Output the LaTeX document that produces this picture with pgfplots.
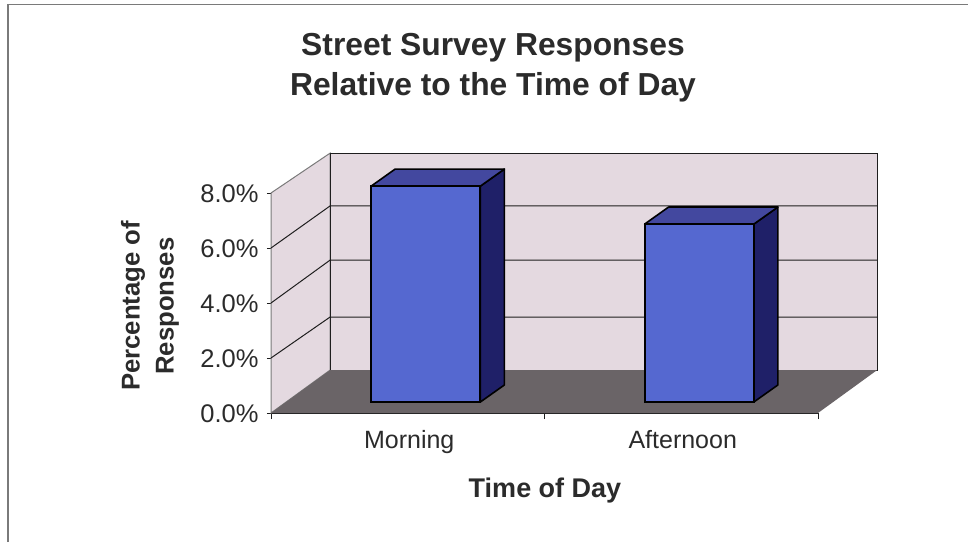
\documentclass[border=0pt]{standalone}
\usepackage{fontspec}
\setmainfont{Liberation Sans}
\usepackage{pgfplots}
\pgfplotsset{compat=1.18}
\definecolor{wallc}{HTML}{E4D9E0}
\definecolor{floorc}{HTML}{6A6467}
\definecolor{barfront}{HTML}{5568D0}
\definecolor{bartop}{HTML}{43489F}
\definecolor{barside}{HTML}{1F2068}
\definecolor{gridc}{HTML}{1E1E1E}
\definecolor{framec}{HTML}{7A7A7A}
\definecolor{textc}{HTML}{2B2B2B}
\begin{document}
\begin{tikzpicture}[x=1pt,y=1pt]
\path[use as bounding box,fill=white] (-271,-129) rectangle (697,413);
% page frame
\draw[framec,line width=1.2pt] (-263,-129) -- (-263,408.5) -- (697,408.5);
\begin{axis}[
  at={(0,0)},anchor=south west,
  width=547pt,height=220pt,scale only axis,
  xmin=0,xmax=2,ymin=0,ymax=8,
  clip=false,
  axis x line*=bottom,axis y line*=left,
  axis line style={gridc,line width=1pt,-},
  xtick={0.5,1.5},xticklabels={Morning,Afternoon},
  minor xtick={0,1,2},
  ytick={0,2,4,6,8},
  major x tick style={draw=none},
  tick align=outside,
  tick style={gridc,line width=0.9pt},
  major tick length=4pt,minor tick length=6pt,
  y tick label style={font=\fontsize{25.5}{28}\selectfont,text=textc,xshift=-5pt,yshift=-1pt},
  x tick label style={font=\fontsize{25}{28}\selectfont,text=textc,xshift=1.5pt,yshift=-10pt},
  /pgf/number format/assume math mode=true,
  yticklabel={\pgfmathprintnumber[fixed,fixed zerofill,precision=1]{\tick}\%},
]
% left wall, back wall, floor
\addplot[fill=wallc,draw=framec,line width=1pt] coordinates {(0,0)(0.216,1.56)(0.216,9.45)(0,8)} -- cycle;
\addplot[fill=wallc,draw=gridc,line width=1pt] coordinates {(0.216,1.56)(2.216,1.56)(2.216,9.45)(0.216,9.45)} -- cycle;
\addplot[fill=floorc,draw=none] coordinates {(0,0)(2,0)(2.216,1.56)(0.216,1.56)} -- cycle;
% gridlines on both walls
\addplot[gridc,line width=1pt] coordinates {(0,2)(0.216,3.49)(2.216,3.49)};
\addplot[gridc,line width=1pt] coordinates {(0,4)(0.216,5.56)(2.216,5.56)};
\addplot[gridc,line width=1pt] coordinates {(0,6)(0.216,7.53)(2.216,7.53)};
% side and top faces of the bars
\addplot[fill=barside,draw=black,line width=1.6pt,line join=round,xshift=18pt,yshift=11pt]
  coordinates {(0.6996,0)(0.7876,0.62)(0.7876,8.47)(0.6996,7.85)} -- cycle;
\addplot[fill=bartop,draw=black,line width=1.6pt,line join=round,xshift=18pt,yshift=11pt]
  coordinates {(0.3004,7.85)(0.6996,7.85)(0.7876,8.47)(0.388,8.47)} -- cycle;
\addplot[fill=barside,draw=black,line width=1.6pt,line join=round,xshift=18pt,yshift=11pt]
  coordinates {(1.6996,0)(1.7876,0.62)(1.7876,7.09)(1.6996,6.47)} -- cycle;
\addplot[fill=bartop,draw=black,line width=1.6pt,line join=round,xshift=18pt,yshift=11pt]
  coordinates {(1.3004,6.47)(1.6996,6.47)(1.7876,7.09)(1.388,7.09)} -- cycle;
% front faces of the bars
\addplot[ybar,bar width=109pt,bar shift=0pt,fill=barfront,draw=black,line width=1.6pt,xshift=18pt,yshift=11pt]
  coordinates {(0.5,7.85)(1.5,6.47)};
\end{axis}
% titles and axis labels
\node[font=\bfseries\fontsize{31.8}{40}\selectfont,align=center,text=textc] at (222,345) {Street Survey Responses\\Relative to the Time of Day};
\node[font=\bfseries\fontsize{25.7}{34}\selectfont,align=center,rotate=90,text=textc] at (-121,107) {Percentage of\\Responses};
\node[font=\bfseries\fontsize{27}{30}\selectfont,text=textc] at (274,-78) {Time of Day};
\end{tikzpicture}
\end{document}
